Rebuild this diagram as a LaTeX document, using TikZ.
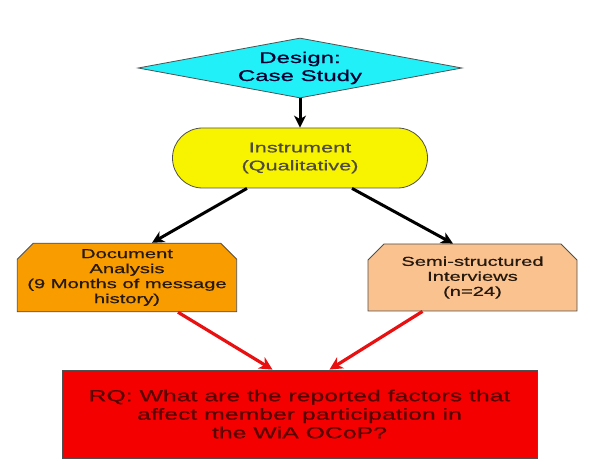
\documentclass[tikz,border=0pt]{standalone}
\usepackage{fontspec}
\setmainfont[FakeStretch=1.55,FakeBold=0.7]{Liberation Sans}
\usetikzlibrary{shapes.geometric,shapes.misc,arrows.meta,calc}
\definecolor{dcyan}{HTML}{22F0F8}
\definecolor{dyellow}{HTML}{F8F400}
\definecolor{dorange}{HTML}{F89C00}
\definecolor{dpeach}{HTML}{F9C28F}
\definecolor{dred}{HTML}{F40000}
\definecolor{edgec}{HTML}{505050}
\definecolor{arrred}{HTML}{E81010}
\tikzset{
  shapebase/.style={draw=edgec, line width=0.8pt, inner sep=0pt, align=center},
  designbox/.style={shapebase, diamond, fill=dcyan, aspect=5.4, minimum width=324pt, minimum height=60pt, text=black!80!blue, font=\fontsize{15.5}{18}\selectfont},
  instrbox/.style={shapebase, rounded rectangle, fill=dyellow, minimum width=255pt, minimum height=60pt, text=black!80!yellow, font=\fontsize{14}{18}\selectfont},
  methodbox/.style={shapebase, chamfered rectangle, chamfered rectangle corners={north west,north east}, chamfered rectangle xsep=10pt, chamfered rectangle ysep=6pt, minimum width=208pt, minimum height=67pt, text=black!80!brown, font=\fontsize{13}{15}\selectfont},
  rqbox/.style={shapebase, rectangle, fill=dred, minimum width=475pt, minimum height=88pt, text=black!65!red, font=\fontsize{16}{18.5}\selectfont},
  blackarrow/.style={line width=3pt, draw=black, -{Stealth[length=12pt,width=12pt,inset=3.5pt]}},
  redarrow/.style={line width=3.2pt, draw=arrred, -{Stealth[length=13pt,width=13pt,inset=4pt]}}
}
\begin{document}
\begin{tikzpicture}[x=1pt,y=-1pt]
\useasboundingbox (0,0) rectangle (590,468);
\node[designbox] (design) at (300,68) {Design:\\Case Study};
\node[instrbox] (instr) at (300,158) {Instrument\\(Qualitative)};
\node[methodbox, fill=dorange] (doc) at (127,277.5) {Document\\Analysis\\(9 Months of message\\history)};
\node[methodbox, fill=dpeach, minimum width=209pt] (semi) at (472.5,277.5) {Semi-structured\\Interviews\\(n=24)};
\node[rqbox] (rq) at (299.5,414) {RQ: What are the reported factors that\\affect member participation in\\the WiA OCoP?};
\draw[blackarrow] (design.south) -- (instr.north);
\draw[blackarrow] ($(instr.south)+(-53,0)$) -- ($(doc.north)+(25,0)$);
\draw[blackarrow] ($(instr.south)+(52,0)$) -- ($(semi.north)+(-19.5,0)$);
\draw[redarrow] ($(doc.south)+(51,0)$) -- ($(rq.north)+(-27,0)$);
\draw[redarrow] ($(semi.south)+(-50,0)$) -- ($(rq.north)+(30,0)$);
\end{tikzpicture}
\end{document}
